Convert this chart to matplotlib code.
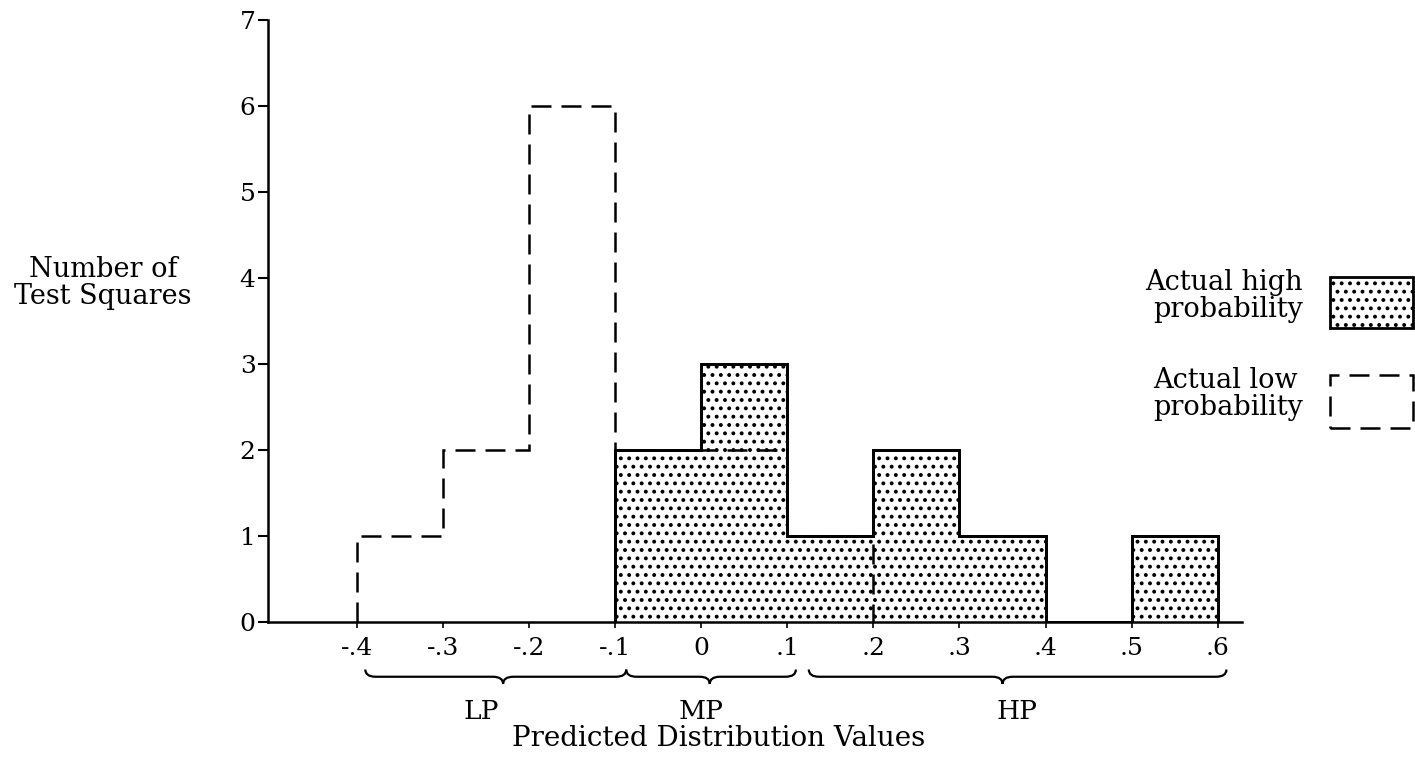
import numpy as np
import matplotlib
matplotlib.use("Agg")
import matplotlib.pyplot as plt
from matplotlib.patches import Rectangle, PathPatch
from matplotlib.path import Path
import matplotlib.transforms as mtransforms

plt.rcParams['font.family'] = ['DejaVu Serif']
plt.rcParams['hatch.linewidth'] = 1.6

# bin edges (predicted distribution values)
low_edges = [-0.4, -0.3, -0.2, -0.1, 0.0, 0.1, 0.2]
low_counts = [1, 2, 6, 2, 2, 1]            # actual low probability
high_edges = [-0.1, 0.0, 0.1, 0.2, 0.3, 0.4, 0.5, 0.6]
high_counts = [2, 3, 1, 2, 1, 0, 1]        # actual high probability

xticks = [-0.4, -0.3, -0.2, -0.1, 0.0, 0.1, 0.2, 0.3, 0.4, 0.5, 0.6]
xtick_labels = ['-.4', '-.3', '-.2', '-.1', '0', '.1', '.2', '.3', '.4', '.5', '.6']
yticks = [0, 1, 2, 3, 4, 5, 6, 7]

# groups under the axis: (start, end, brace point), and label x
group_names = ['LP', 'MP', 'HP']
group_spans = [(-0.39, -0.087, -0.23), (-0.087, 0.11, 0.01), (0.125, 0.61, 0.35)]
group_label_x = [-0.255, 0.0, 0.367]

fig = plt.figure(figsize=(14.15, 7.61), dpi=100)
ax = fig.add_axes([0.1894, 0.1827, 0.6883, 0.791])

# high probability: stippled histogram
ax.stairs(high_counts, high_edges, baseline=0, fill=True, facecolor='white',
          edgecolor='black', hatch='..', linewidth=2)
ax.stairs(high_counts, high_edges, baseline=0, color='black', linewidth=2)

# low probability: dashed outline
ax.stairs(low_counts, low_edges, baseline=0, color='black', linewidth=1.8,
          linestyle=(0, (8, 4)))

ax.set_xlim(-0.503, 0.628)
ax.set_ylim(0, 7)
ax.spines['top'].set_visible(False)
ax.spines['right'].set_visible(False)
ax.spines['left'].set_linewidth(1.8)
ax.spines['bottom'].set_linewidth(1.8)
ax.spines['left'].set_bounds(0, 7)

ax.set_yticks(yticks)
ax.set_yticklabels([str(v) for v in yticks])
ax.set_xticks(xticks)
ax.set_xticklabels(xtick_labels)
ax.tick_params(axis='y', direction='out', length=7, width=1.5, labelsize=18, pad=2)
ax.tick_params(axis='x', direction='out', length=4, width=1.2, labelsize=18, pad=7)

# braces under the axis
trans = mtransforms.blended_transform_factory(ax.transData, ax.transAxes)
yb = -0.091
h = 0.012
d = 0.012
for (x0, x1, xp) in group_spans:
    verts = [(x0, yb + h), (x0, yb), (x0 + d, yb),
             (xp - d, yb), (xp, yb), (xp, yb - h),
             (xp, yb), (xp + d, yb),
             (x1 - d, yb), (x1, yb), (x1, yb + h)]
    codes = [Path.MOVETO, Path.CURVE3, Path.CURVE3,
             Path.LINETO, Path.CURVE3, Path.CURVE3,
             Path.CURVE3, Path.CURVE3,
             Path.LINETO, Path.CURVE3, Path.CURVE3]
    ax.add_patch(PathPatch(Path(verts, codes), transform=trans, fill=False,
                           edgecolor='black', linewidth=1.6, clip_on=False))

for name, gx in zip(group_names, group_label_x):
    ax.text(gx, -0.148, name, transform=trans, ha='center', va='center',
            fontsize=19, clip_on=False)

fig.text(0.508, 0.030, 'Predicted Distribution Values', ha='center', va='center',
         fontsize=20)
fig.text(0.0728, 0.628, 'Number of\nTest Squares', ha='center', va='center',
         fontsize=19.5, linespacing=1.0)

# legend drawn by hand at the right edge
fig.text(0.921, 0.611, 'Actual high\nprobability', ha='right', va='center',
         fontsize=19.5, linespacing=1.0, multialignment='right')
fig.patches.append(Rectangle((0.940, 0.569), 0.0587, 0.067, transform=fig.transFigure,
                             facecolor='white', edgecolor='black', hatch='..',
                             linewidth=2))
fig.text(0.921, 0.482, 'Actual low\nprobability', ha='right', va='center',
         fontsize=19.5, linespacing=1.0, multialignment='left')
fig.patches.append(Rectangle((0.940, 0.4376), 0.0587, 0.0696, transform=fig.transFigure,
                             facecolor='none', edgecolor='black', linewidth=1.8,
                             linestyle=(0, (8, 4))))

fig.savefig('out.png', dpi=100)
